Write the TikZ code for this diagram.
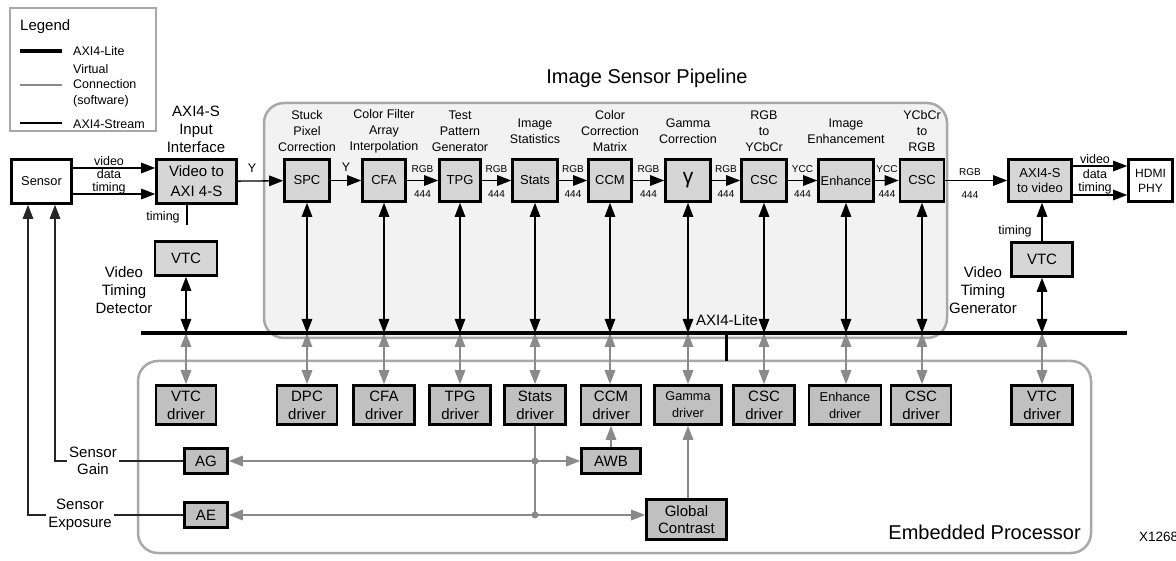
\documentclass[tikz,border=0pt]{standalone}
\usepackage{fontspec}
\setmainfont{Liberation Sans}
\usetikzlibrary{arrows.meta}
\definecolor{blkg}{HTML}{D6D6D6}
\definecolor{drvg}{HTML}{C0C0C0}
\definecolor{pipef}{HTML}{F2F2F2}
\definecolor{boxg}{HTML}{A8A8A8}
\definecolor{virt}{HTML}{8A8A8A}
\newcommand{\myfs}[2]{\fontsize{#1}{#2}\selectfont}
\begin{document}
\begin{tikzpicture}[x=1pt,y=-1pt,
  >={Triangle[length=14pt,width=10.5pt]},
  blk/.style={draw=black, line width=2.6pt, fill=blkg, inner sep=0pt, align=center, minimum height=42pt, font=\myfs{13}{16}},
  drv/.style={draw=black, line width=2.6pt, fill=drvg, inner sep=0pt, align=center, minimum height=39pt, font=\myfs{15}{18}},
  wbox/.style={draw=black, line width=2.6pt, fill=white, inner sep=0pt, align=center},
  lbl/.style={align=center, inner sep=0pt, font=\myfs{12.5}{16}},
  big/.style={align=center, inner sep=0pt, font=\myfs{15}{18}},
  sml/.style={inner sep=0pt, font=\myfs{10}{12}},
  tiny/.style={inner sep=0pt, font=\myfs{12.5}{14}},
  stream/.style={line width=1.3pt, ->},
  lite/.style={line width=1.3pt, <->},
  virtual/.style={draw=virt, fill=virt, line width=1.6pt, <->},
  virtone/.style={draw=virt, fill=virt, line width=1.6pt, ->},
  ctl/.style={draw=black!85, line width=1.3pt, ->}
]
\useasboundingbox (0,0) rectangle (1176,561);

% ---------- frames ----------
\draw[boxg, line width=2pt] (10,8) rectangle (156,131);
\draw[boxg, fill=pipef, line width=2.5pt, rounded corners=20pt] (264,103) rectangle (947,338);
\draw[boxg, fill=white, line width=2.5pt, rounded corners=20pt] (138,361) rectangle (1091,553);

% ---------- legend ----------
\node[anchor=west, inner sep=0pt, font=\myfs{15}{18}] (legt) at (20,27) {Legend};
\draw[line width=4pt] (20,51) -- (62,51);
\node[anchor=west, inner sep=0pt, font=\myfs{12.5}{15.5}] (leg1) at (73,51) {AXI4-Lite};
\draw[virt, line width=2.5pt] (20,85) -- (62,85);
\node[anchor=west, inner sep=0pt, align=left, font=\myfs{12.5}{15.5}] (leg2) at (73,85.5) {Virtual\\Connection\\(software)};
\draw[line width=2pt] (20,123) -- (62,123);
\node[anchor=west, inner sep=0pt, font=\myfs{12.5}{15.5}] (leg3) at (73,124) {AXI4-Stream};

% ---------- titles ----------
\node[inner sep=0pt, font=\myfs{20}{22}] (ttl) at (647,78) {Image Sensor Pipeline};
\node[big] (aint) at (196,129) {AXI4-S\\Input\\Interface};

% ---------- input side ----------
\node[wbox, minimum width=60pt, minimum height=44pt, font=\myfs{12.8}{15}] (sensor) at (41.5,181.5) {Sensor};
\node[blk, minimum width=80pt, minimum height=44pt, font=\myfs{15}{20}] (vaxi) at (196.5,181.5) {Video to\\AXI 4-S};
\coordinate (s1) at (0,168);
\coordinate (s2) at (0,194);
\draw[stream] (sensor.east |- s1) -- (vaxi.west |- s1);
\draw[stream] (sensor.east |- s2) -- (vaxi.west |- s2);
\node[tiny] (lv1) at (109,161) {video};
\node[tiny] (ld1) at (109,174.5) {data};
\node[tiny] (lt1) at (109,188) {timing};

\coordinate (tst) at (187,225);
\draw[line width=1.3pt] (vaxi.south -| tst) -- (tst);
\node[tiny] (ltim1) at (163,217) {timing};

\node[blk, minimum width=62pt, minimum height=34pt, font=\myfs{15}{18}] (vtc1) at (186,258.5) {VTC};
\node[big] (vtd) at (124,290) {Video\\Timing\\Detector};

% ---------- pipeline blocks ----------
\node[blk, minimum width=45pt] (spc) at (307,180.5) {SPC};
\node[blk, minimum width=43pt] (cfa) at (384,180.5) {CFA};
\node[blk, minimum width=41pt] (tpg) at (460,180.5) {TPG};
\node[blk, minimum width=45pt] (stats) at (535,180.5) {Stats};
\node[blk, minimum width=43pt] (ccm) at (610,180.5) {CCM};
\node[blk, minimum width=45pt, font=\myfs{21}{21}] (gam) at (688,180.5) {γ};
\node[blk, minimum width=45pt] (csca) at (764,180.5) {CSC};
\node[blk, minimum width=55pt, font=\myfs{12.8}{16}] (enh) at (846,180.5) {Enhance};
\node[blk, minimum width=44pt] (cscb) at (922,180.5) {CSC};

\node[lbl] (l1) at (307,131) {Stuck\\Pixel\\Correction};
\node[lbl] (l2) at (384,131) {Color Filter\\Array\\Interpolation};
\node[lbl] (l3) at (460,131) {Test\\Pattern\\Generator};
\node[lbl] (l4) at (535,131) {Image\\Statistics};
\node[lbl] (l5) at (610,131) {Color\\Correction\\Matrix};
\node[lbl] (l6) at (688,131) {Gamma\\Correction};
\node[lbl] (l7) at (764,131) {RGB\\to\\YCbCr};
\node[lbl] (l8) at (846,131) {Image\\Enhancement};
\node[lbl] (l9) at (922,131) {YCbCr\\to\\RGB};

\draw[stream] (vaxi) -- (spc);
\node[tiny] (ly0) at (252,168) {Y};
\draw[stream] (spc) -- (cfa);
\node[tiny] (ly1) at (346,167) {Y};
\draw[stream] (cfa) -- (tpg);
\draw[stream] (tpg) -- (stats);
\draw[stream] (stats) -- (ccm);
\draw[stream] (ccm) -- (gam);
\draw[stream] (gam) -- (csca);
\draw[stream] (csca) -- (enh);
\draw[stream] (enh) -- (cscb);
\foreach \xx/\tt [count=\i] in {422.5/RGB,496.5/RGB,573/RGB,648.5/RGB,726/RGB,802.5/YCC,887/YCC}{
  \node[sml] (ta\i) at (\xx,169.5) {\tt};
  \node[sml] (tb\i) at (\xx,194.5) {444};
}

% ---------- output side ----------
\node[blk, minimum width=63pt, font=\myfs{13}{15}] (a2v) at (1040,180.5) {AXI4-S\\to video};
\node[wbox, minimum width=44pt, minimum height=42pt, font=\myfs{12}{15}] (hdmi) at (1150.5,180.5) {HDMI\\PHY};
\draw[stream] (cscb) -- (a2v);
\node[sml] (tro) at (970,172) {RGB};
\node[sml] (trp) at (970,195) {444};
\coordinate (h1) at (0,166);
\coordinate (h2) at (0,195);
\draw[stream] (a2v.east |- h1) -- (hdmi.west |- h1);
\draw[stream] (a2v.east |- h2) -- (hdmi.west |- h2);
\node[tiny] (lv2) at (1095,159) {video};
\node[tiny] (ld2) at (1095,174) {data};
\node[tiny] (lt2) at (1095,188) {timing};

\node[blk, minimum width=61pt, minimum height=34pt, font=\myfs{15}{18}] (vtc2) at (1042,259.5) {VTC};
\draw[stream] (vtc2.north) -- (vtc2.north |- a2v.south);
\node[tiny] (ltim2) at (1015,231) {timing};
\node[big] (vtg) at (983,290) {Video\\Timing\\Generator};

% ---------- drivers ----------
\node[drv, minimum width=60pt] (dvtc1) at (186,405) {VTC\\driver};
\node[drv, minimum width=60pt] (ddpc) at (307,405) {DPC\\driver};
\node[drv, minimum width=61pt] (dcfa) at (384,405) {CFA\\driver};
\node[drv, minimum width=61pt] (dtpg) at (460,405) {TPG\\driver};
\node[drv, minimum width=61pt] (dstats) at (535,405) {Stats\\driver};
\node[drv, minimum width=60pt] (dccm) at (611,405) {CCM\\driver};
\node[drv, minimum width=67pt, font=\myfs{12.7}{17}] (dgam) at (688,405) {Gamma\\driver};
\node[drv, minimum width=61pt] (dcsca) at (764,405) {CSC\\driver};
\node[drv, minimum width=72pt, font=\myfs{12.8}{17}] (denh) at (845,405) {Enhance\\driver};
\node[drv, minimum width=60pt] (dcscb) at (921,405) {CSC\\driver};
\node[drv, minimum width=61pt] (dvtc2) at (1042,405) {VTC\\driver};

% ---------- bus connections ----------
\coordinate (busL) at (141,333);
\coordinate (busR) at (1127,333);
\foreach \b/\d in {vtc1/dvtc1,spc/ddpc,cfa/dcfa,tpg/dtpg,stats/dstats,ccm/dccm,gam/dgam,csca/dcsca,enh/denh,cscb/dcscb,vtc2/dvtc2}{
  \coordinate (bus-\b) at (\b.south |- busL);
  \draw[lite] (\b.south) -- (bus-\b);
  \draw[virtual] (bus-\b) -- (bus-\b |- \d.north);
}
\draw[line width=4pt] (busL) -- (busR);
\coordinate (st1) at (726,333);
\coordinate (st2) at (726,361);
\draw[line width=3pt] (st1) -- (st2);
\node[inner sep=0pt, font=\myfs{15}{18}] (axl) at (727,320) {AXI4-Lite};

% ---------- processor internals ----------
\node[drv, minimum width=43pt, minimum height=25pt] (ag) at (206,461) {AG};
\node[drv, minimum width=43pt, minimum height=25pt] (ae) at (206,515) {AE};
\node[drv, minimum width=59pt, minimum height=25pt] (awb) at (611,461) {AWB};
\node[drv, minimum width=80pt, minimum height=40pt, font=\myfs{15}{17}] (gc) at (686.5,519.5) {Global\\Contrast};

\coordinate (j1) at (dstats.south |- ag.east);
\coordinate (j2) at (dstats.south |- ae.east);
\draw[virt, line width=1.6pt] (dstats.south) -- (j2);
\draw[virtual] (ag.east) -- (awb.west);
\draw[virtual] (ae.east) -- (ae.east -| gc.west);
\fill[virt] (j1) circle (3.5pt);
\fill[virt] (j2) circle (3.5pt);
\draw[virtone] (awb.north) -- (awb.north |- dccm.south);
\draw[virtone] (gc.north -| dgam.south) -- (dgam.south);

% ---------- sensor control ----------
\coordinate (sg) at (55,461);
\coordinate (se) at (28,515);
\draw[ctl] (ag.west) -- (sg) -- (sg |- sensor.south);
\draw[ctl] (ae.west) -- (se) -- (se |- sensor.south);
\node[fill=white, inner xsep=2pt, inner ysep=0pt, align=center, font=\myfs{15}{17.5}] (lsg) at (93,461) {Sensor\\Gain};
\node[fill=white, inner xsep=2pt, inner ysep=0pt, align=center, font=\myfs{15}{18.5}] (lse) at (80,515) {Sensor\\Exposure};

% ---------- captions ----------
\node[anchor=east, inner sep=0pt, font=\myfs{20}{22}] (emb) at (1081,532) {Embedded Processor};
\node[anchor=west, inner sep=0pt, font=\myfs{13.5}{15}] (xid) at (1139,537) {X1268};
\end{tikzpicture}
\end{document}
